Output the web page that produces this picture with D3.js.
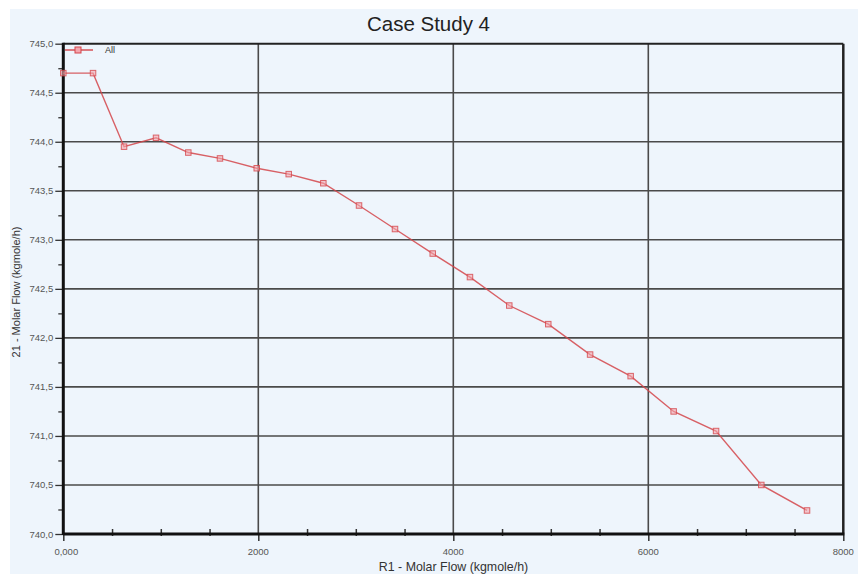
<!DOCTYPE html>
<html><head><meta charset="utf-8">
<script src="https://cdn.jsdelivr.net/npm/d3@7"></script>
<style>html,body{margin:0;padding:0;background:#fff;}</style>
</head><body>
<script>
const xValues = [0, 305, 623, 951, 1282, 1607, 1984, 2312, 2667, 3033, 3402, 3789, 4171, 4574, 4974, 5403, 5819, 6260, 6695, 7159, 7628];
const yValues = [744.70, 744.70, 743.95, 744.04, 743.89, 743.83, 743.73, 743.67, 743.577, 743.35, 743.11, 742.86, 742.62, 742.33, 742.14, 741.83, 741.61, 741.25, 741.05, 740.50, 740.24];
const xTicks = [0, 2000, 4000, 6000, 8000];
const xTickLabels = ["0,000", "2000", "4000", "6000", "8000"];
const yTicks = [740, 740.5, 741, 741.5, 742, 742.5, 743, 743.5, 744, 744.5, 745];
const seriesName = "All";

const W = 858, H = 574;
const m = {left: 63.3, right: 843.3, top: 43.7, bottom: 534};
const svg = d3.select("body").append("svg").attr("width", W).attr("height", H);
svg.append("rect").attr("x", 10).attr("y", 9).attr("width", W - 10).attr("height", H - 9).attr("fill", "#eef5fc");

const x = d3.scaleLinear().domain([0, 8000]).range([m.left, m.right]);
const y = d3.scaleLinear().domain([740, 745]).range([m.bottom, m.top]);

// grid
const g = svg.append("g");
g.selectAll(".vg").data(xTicks.slice(1, -1)).join("line")
  .attr("x1", d => x(d)).attr("x2", d => x(d)).attr("y1", m.top).attr("y2", m.bottom)
  .attr("stroke", "#4a4a4a").attr("stroke-width", 1.6);
g.selectAll(".hg").data(yTicks.slice(1, -1)).join("line")
  .attr("y1", d => y(d)).attr("y2", d => y(d)).attr("x1", m.left).attr("x2", m.right)
  .attr("stroke", "#4a4a4a").attr("stroke-width", 1.6);

// border
svg.append("line").attr("x1", m.left).attr("x2", m.right).attr("y1", m.top).attr("y2", m.top).attr("stroke", "#222").attr("stroke-width", 2);
svg.append("line").attr("x1", m.right).attr("x2", m.right).attr("y1", m.top).attr("y2", m.bottom).attr("stroke", "#222").attr("stroke-width", 2.5);

// axes
const xAxis = d3.axisBottom(x).tickValues(d3.range(0, 8001, 500)).tickSize(0).tickFormat("");
const xa = svg.append("g").attr("transform", `translate(0,${m.bottom})`).call(xAxis);
xa.select(".domain").remove();
xa.selectAll(".tick line").attr("y1", d => xTicks.includes(d) ? 7 : -5).attr("y2", d => xTicks.includes(d) ? 0 : 2).attr("stroke", "#333").attr("stroke-width", 1.5);
svg.append("g").selectAll("text").data(xTicks).join("text")
  .attr("x", (d, i) => x(d) + (i === 0 ? 3 : 0)).attr("y", m.bottom + 21)
  .attr("text-anchor", "middle").attr("font-family", "Liberation Sans, Arial, sans-serif")
  .attr("font-size", 9.5).attr("fill", "#555").text((d, i) => xTickLabels[i]);

const yAxis = d3.axisLeft(y).tickValues(d3.range(740, 745.01, 0.25)).tickSize(0).tickFormat("");
const ya = svg.append("g").attr("transform", `translate(${m.left},0)`).call(yAxis);
ya.select(".domain").remove();
ya.selectAll(".tick line").attr("x1", d => (Math.round(d * 4) % 2 === 0) ? -8 : -5).attr("x2", 0).attr("stroke", "#333").attr("stroke-width", 1.3);
svg.append("g").selectAll("text").data(yTicks).join("text")
  .attr("x", m.left - 10).attr("y", d => y(d) + 3.5)
  .attr("text-anchor", "end").attr("font-family", "Liberation Sans, Arial, sans-serif")
  .attr("font-size", 9.5).attr("fill", "#555").text(d => d.toFixed(1).replace(".", ","));

svg.append("line").attr("x1", m.left).attr("x2", m.right + 1).attr("y1", m.bottom).attr("y2", m.bottom).attr("stroke", "#111").attr("stroke-width", 3);
svg.append("line").attr("x1", m.left).attr("x2", m.left).attr("y1", m.top - 1).attr("y2", m.bottom + 1).attr("stroke", "#111").attr("stroke-width", 3);

// series
const data = xValues.map((v, i) => [v, yValues[i]]);
const red = "#d4454a";
svg.append("path").datum(data)
  .attr("d", d3.line().x(d => x(d[0])).y(d => y(d[1])))
  .attr("fill", "none").attr("stroke", red).attr("stroke-width", 1.4).attr("opacity", 0.85);
svg.append("g").selectAll("rect").data(data).join("rect")
  .attr("x", d => x(d[0]) - 2.75).attr("y", d => y(d[1]) - 2.75).attr("width", 5.5).attr("height", 5.5)
  .attr("fill", "#f4a6ae").attr("fill-opacity", 0.6).attr("stroke", red).attr("stroke-width", 1).attr("stroke-opacity", 0.8);

// legend
svg.append("line").attr("x1", 65).attr("x2", 93).attr("y1", 50).attr("y2", 50).attr("stroke", red).attr("stroke-width", 1.4);
svg.append("rect").attr("x", 75).attr("y", 47).attr("width", 6).attr("height", 6).attr("fill", "#f4a6ae").attr("stroke", red);
svg.append("text").attr("x", 105).attr("y", 53).attr("font-family", "Liberation Sans, Arial, sans-serif")
  .attr("font-size", 9).attr("fill", "#333").text(seriesName);

// titles
svg.append("text").attr("x", 428.5).attr("y", 30.5).attr("text-anchor", "middle")
  .attr("font-family", "Liberation Sans, Arial, sans-serif").attr("font-size", 20.5).attr("fill", "#222").text("Case Study 4");
svg.append("text").attr("x", 453.5).attr("y", 571).attr("text-anchor", "middle")
  .attr("font-family", "Liberation Sans, Arial, sans-serif").attr("font-size", 12.4).attr("fill", "#333").text("R1 - Molar Flow (kgmole/h)");
svg.append("text").attr("transform", "translate(20,292) rotate(-90)").attr("text-anchor", "middle")
  .attr("font-family", "Liberation Sans, Arial, sans-serif").attr("font-size", 11).attr("fill", "#333").text("21 - Molar Flow (kgmole/h)");
</script>
</body></html>
